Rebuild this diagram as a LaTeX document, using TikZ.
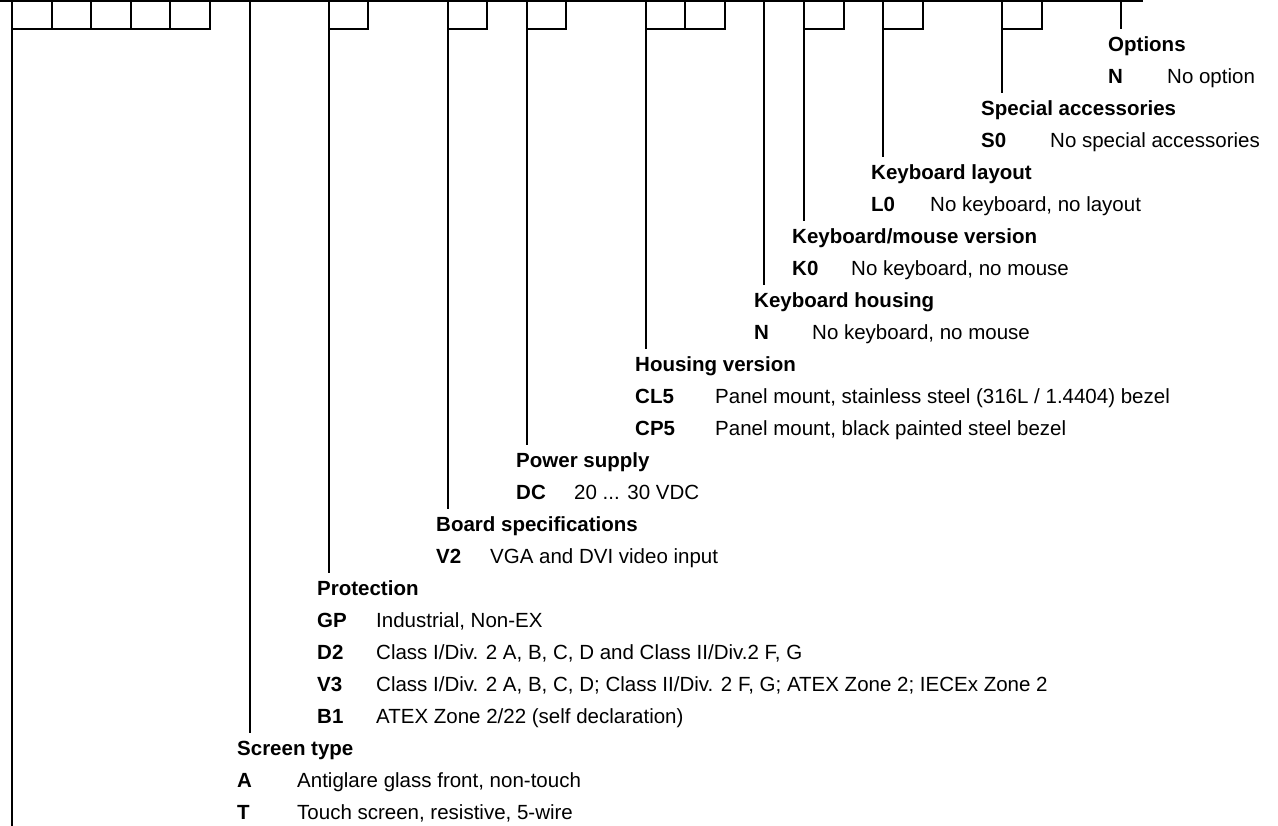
\documentclass[tikz,border=0pt]{standalone}
\usepackage{fontspec}
\setmainfont{Liberation Sans}
\usetikzlibrary{positioning}
\tikzset{
  txt/.style={anchor=base west, inner sep=0pt, text height=14.7pt, font=\fontsize{20.5}{24}\selectfont},
  hd/.style={txt, font=\fontsize{20.5}{24}\selectfont\bfseries},
  code/.style={hd},
  desc/.style={txt},
  tick/.style={line width=2pt},
  lead/.style={tick, shorten >=7pt}
}

\begin{document}
\begin{tikzpicture}[x=1pt, y=-1pt]
\useasboundingbox (0,0) rectangle (1278,826);

% Kopfzeile mit Feldern
\foreach \n in {0,...,28} {
    \coordinate (t\n) at (12+39.6*\n, 0);
}
\draw[tick] (0,1) -- (1143,1);
\draw[tick] (t0) |- ++(198,29) -- ++(0,-29);
\foreach \n in {1,...,4} {
    \draw[tick] (t\n) -- ++(0,29);
}
\draw[tick] (t8) |- ++(39.6,29) -- ++(0,-29);
\draw[tick] (t11) |- ++(39.6,29) -- ++(0,-29);
\draw[tick] (t13) |- ++(39.6,29) -- ++(0,-29);
\draw[tick] (t16) |- ++(79.2,29) -- ++(0,-29);
\draw[tick] (t17) -- ++(0,29);
\draw[tick] (t20) |- ++(39.6,29) -- ++(0,-29);
\draw[tick] (t22) |- ++(39.6,29) -- ++(0,-29);
\draw[tick] (t25) |- ++(39.6,29) -- ++(0,-29);
\draw[tick] (t0) -- ++(0,826);

% Optionen
\node[hd] (opt) at (1108,51.3) {Options};
\node[code] (cN) at (1108,83.3) {N};
\node[desc] (dN) at (1167,83.3) {No option};
\draw[lead] (t28) -- (t28 |- opt.north);

% Sonderzubehoer
\node[hd] (acc) at (981,115.3) {Special accessories};
\node[code] (cS0) at (981,147.3) {S0};
\node[desc] (dS0) at (1050,147.3) {No special accessories};
\draw[lead] (t25) -- (t25 |- acc.north);

% Tastaturlayout
\node[hd] (lay) at (871,179.3) {Keyboard layout};
\node[code] (cL0) at (871,211.3) {L0};
\node[desc] (dL0) at (930,211.3) {No keyboard, no layout};
\draw[lead] (t22) -- (t22 |- lay.north);

% Tastatur/Maus
\node[hd] (kmv) at (792,243.3) {Keyboard/mouse version};
\node[code] (cK0) at (792,275.3) {K0};
\node[desc] (dK0) at (851,275.3) {No keyboard, no mouse};
\draw[lead] (t20) -- (t20 |- kmv.north);

% Tastaturgehaeuse
\node[hd] (kbh) at (754,307.3) {Keyboard housing};
\node[code] (cKN) at (754,339.3) {N};
\node[desc] (dKN) at (812,339.3) {No keyboard, no mouse};
\draw[lead] (t19) -- (t19 |- kbh.north);

% Gehaeuse
\node[hd] (hsg) at (635,371.3) {Housing version};
\node[code] (cCL5) at (635,403.3) {CL5};
\node[desc] (dCL5) at (715,403.3) {Panel mount, stainless steel (316L / 1.4404) bezel};
\node[code] (cCP5) at (635,435.3) {CP5};
\node[desc] (dCP5) at (715,435.3) {Panel mount, black painted steel bezel};
\draw[lead] (t16) -- (t16 |- hsg.north);

% Versorgung
\node[hd] (pwr) at (516,467.3) {Power supply};
\node[code] (cDC) at (516,499.3) {DC};
\node[desc] (dDC) at (574,499.3) {20 ... 30 VDC};
\draw[lead] (t13) -- (t13 |- pwr.north);

% Board
\node[hd] (brd) at (436,531.3) {Board specifications};
\node[code] (cV2) at (436,563.3) {V2};
\node[desc] (dV2) at (490,563.3) {VGA and DVI video input};
\draw[lead] (t11) -- (t11 |- brd.north);

% Schutzart
\node[hd] (pro) at (317,595.3) {Protection};
\node[code] (cGP) at (317,627.3) {GP};
\node[desc] (dGP) at (376,627.3) {Industrial, Non-EX};
\node[code] (cD2) at (317,659.3) {D2};
\node[desc] (dD2) at (376,659.3) {Class I/Div. 2 A, B, C, D and Class II/Div.2 F, G};
\node[code] (cV3) at (317,691.3) {V3};
\node[desc] (dV3) at (376,691.3) {Class I/Div. 2 A, B, C, D; Class II/Div. 2 F, G; ATEX Zone 2; IECEx Zone 2};
\node[code] (cB1) at (317,723.3) {B1};
\node[desc] (dB1) at (376,723.3) {ATEX Zone 2/22 (self declaration)};
\draw[lead] (t8) -- (t8 |- pro.north);

% Bildschirm
\node[hd] (scr) at (237,755.3) {Screen type};
\node[code] (cA) at (237,787.3) {A};
\node[desc] (dA) at (297,787.3) {Antiglare glass front, non-touch};
\node[code] (cT) at (237,819.3) {T};
\node[desc] (dT) at (297,819.3) {Touch screen, resistive, 5-wire};
\draw[lead] (t6) -- (t6 |- scr.north);
\end{tikzpicture}
\end{document}
